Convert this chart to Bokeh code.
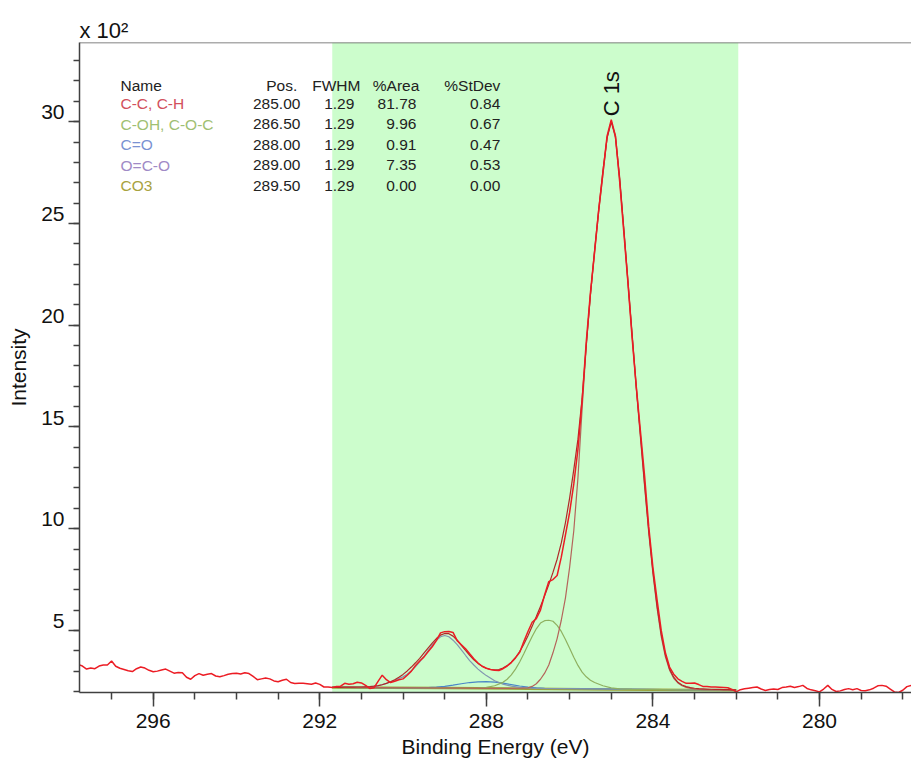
from math import pi
from bokeh.plotting import figure
from bokeh.models import Range1d, SingleIntervalTicker, BoxAnnotation, Label, Span, ColumnDataSource
from bokeh.core.properties import value
from bokeh.embed import file_html
from bokeh.resources import INLINE

FONT = "Liberation Sans"

# ---------------- data (intensity in units of 10^2 counts) ----------------
raw_start = 297.8
raw_step = 0.1
raw_intensity = [
    3.33, 3.25, 3.10, 3.15, 3.12, 3.25, 3.30, 3.30, 3.50, 3.24,
    3.14, 3.08, 3.02, 2.98, 3.12, 3.20, 3.15, 3.04, 2.97, 3.00,
    3.06, 3.10, 3.00, 2.90, 2.93, 2.92, 2.70, 2.60, 2.78, 2.88,
    2.80, 2.85, 2.88, 2.76, 2.72, 2.78, 2.85, 2.88, 2.90, 2.86,
    2.92, 2.88, 2.74, 2.58, 2.62, 2.66, 2.62, 2.52, 2.48, 2.55,
    2.60, 2.44, 2.39, 2.41, 2.40, 2.38, 2.36, 2.42, 2.35, 2.22,
    2.22, 2.19, 2.24, 2.26, 2.40, 2.36, 2.38, 2.45, 2.42, 2.30,
    2.15, 2.18, 2.50, 2.80, 2.58, 2.44, 2.50, 2.58, 2.62, 2.80,
    3.00, 3.28, 3.50, 3.69, 3.95, 4.20, 4.50, 4.88, 4.94, 4.95,
    4.90, 4.50, 4.30, 4.10, 3.85, 3.61, 3.40, 3.24, 3.14, 3.08,
    3.04, 3.03, 3.12, 3.25, 3.42, 3.65, 3.92, 4.45, 4.95, 5.40,
    5.58, 6.00, 6.75, 7.40, 7.50, 7.70, 8.60, 9.70, 10.80, 12.20,
    13.90, 16.30, 19.20, 21.60, 23.60, 25.70, 27.50, 29.30, 30.10, 29.30,
    27.10, 24.60, 22.10, 19.40, 17.00, 14.80, 12.60, 10.10, 8.10, 6.50,
    5.00, 3.90, 3.20, 2.85, 2.62, 2.50, 2.40, 2.40, 2.42, 2.34,
    2.25, 2.24, 2.22, 2.22, 2.21, 2.20, 2.18, 2.10, 1.98, 2.09,
    2.13, 2.16, 2.19, 2.22, 2.12, 2.05, 2.10, 2.12, 2.10, 2.19,
    2.22, 2.26, 2.20, 2.24, 2.30, 2.15, 2.08, 2.04, 1.98, 2.12,
    2.30, 2.10, 2.00, 2.03, 2.10, 2.14, 2.09, 2.14, 2.05, 2.04,
    2.08, 2.16, 2.28, 2.30, 2.26, 2.12, 1.98, 1.95, 2.06, 2.24,
    2.30,
]
raw_energy = [round(raw_start - raw_step * i, 1) for i in range(len(raw_intensity))]

env_start = 291.7
env_intensity = [
    2.20, 2.20, 2.20, 2.21, 2.21, 2.21, 2.22, 2.22, 2.23, 2.24,
    2.26, 2.29, 2.33, 2.40, 2.48, 2.58, 2.70, 2.84, 3.01, 3.20,
    3.41, 3.63, 3.88, 4.13, 4.38, 4.60, 4.77, 4.85, 4.84, 4.72,
    4.52, 4.27, 4.02, 3.78, 3.56, 3.38, 3.24, 3.14, 3.08, 3.06,
    3.08, 3.15, 3.27, 3.44, 3.67, 3.96, 4.32, 4.74, 5.20, 5.68,
    6.18, 6.70, 7.25, 7.85, 8.50, 9.30, 10.30, 11.50, 12.90, 14.40,
    16.40, 19.00, 21.50, 23.70, 25.70, 27.60, 29.20, 30.00, 29.30, 27.30,
    24.80, 22.20, 19.60, 17.00, 14.60, 12.20, 9.90, 7.90, 6.20, 4.80,
    3.80, 3.10, 2.70, 2.45, 2.32, 2.24, 2.19, 2.16, 2.14, 2.13,
    2.12, 2.11, 2.10, 2.10, 2.09, 2.09, 2.08, 2.08,
]
env_energy = [round(env_start - raw_step * i, 1) for i in range(len(env_intensity))]

cc_energy = [291.7, 287.6, 287.2, 287.0, 286.9, 286.8, 286.7, 286.6, 286.5, 286.4,
             286.3, 286.2, 286.1, 286.0, 285.9, 285.8, 285.7, 285.6, 285.5, 285.4,
             285.3, 285.2, 285.1, 285.0, 284.9, 284.8, 284.7, 284.6, 284.5, 284.4,
             284.3, 284.2, 284.1, 284.0, 283.9, 283.8, 283.7, 283.6, 283.5, 283.4,
             283.3, 283.2, 283.0, 282.8, 282.0]
cc_intensity = [2.20, 2.15, 2.16, 2.18, 2.25, 2.38, 2.60, 2.90, 3.30, 3.90,
                4.60, 5.50, 6.60, 8.10, 9.90, 12.50, 15.90, 19.00, 21.50, 23.60,
                25.60, 27.40, 29.20, 30.00, 29.20, 27.20, 24.70, 22.10, 19.50, 16.90,
                14.50, 12.10, 9.80, 7.80, 6.10, 4.70, 3.70, 3.05, 2.65, 2.42,
                2.28, 2.20, 2.12, 2.09, 2.06]

coh_energy = [291.7, 288.4, 288.2, 288.0, 287.8, 287.6, 287.5, 287.4, 287.3, 287.2,
              287.1, 287.0, 286.9, 286.8, 286.7, 286.6, 286.5, 286.4, 286.3, 286.2,
              286.1, 286.0, 285.9, 285.8, 285.7, 285.6, 285.5, 285.4, 285.2, 285.0,
              284.8, 284.5, 282.0]
coh_intensity = [2.20, 2.16, 2.17, 2.20, 2.28, 2.45, 2.60, 2.82, 3.10, 3.45,
                 3.85, 4.28, 4.70, 5.08, 5.36, 5.48, 5.50, 5.45, 5.25, 4.95,
                 4.55, 4.12, 3.68, 3.28, 2.95, 2.72, 2.55, 2.44, 2.28, 2.18,
                 2.13, 2.10, 2.06]

co_energy = [291.7, 289.6, 289.4, 289.2, 289.0, 288.8, 288.6, 288.4, 288.2, 288.0,
             287.8, 287.6, 287.4, 287.2, 287.0, 286.8, 286.6, 282.0]
co_intensity = [2.20, 2.18, 2.19, 2.21, 2.25, 2.31, 2.38, 2.44, 2.47, 2.48,
                2.46, 2.41, 2.34, 2.27, 2.21, 2.18, 2.16, 2.06]

oco_energy = [291.7, 291.0, 290.8, 290.6, 290.4, 290.2, 290.0, 289.9, 289.8, 289.7,
              289.6, 289.5, 289.4, 289.3, 289.2, 289.1, 289.0, 288.9, 288.8, 288.7,
              288.6, 288.5, 288.4, 288.3, 288.2, 288.1, 288.0, 287.8, 287.6, 287.4,
              287.2, 287.0, 286.8, 282.0]
oco_intensity = [2.20, 2.21, 2.23, 2.28, 2.40, 2.55, 2.72, 2.85, 3.02, 3.22,
                 3.45, 3.72, 4.00, 4.28, 4.52, 4.69, 4.75, 4.69, 4.52, 4.30,
                 4.05, 3.78, 3.52, 3.30, 3.10, 2.93, 2.78, 2.53, 2.36, 2.26,
                 2.20, 2.17, 2.15, 2.06]

bg_energy = [291.7, 289.0, 287.0, 285.0, 283.0, 282.0]
bg_intensity = [2.20, 2.17, 2.14, 2.10, 2.07, 2.06]

region_left = 291.7
region_right = 281.95

# fit table
tbl_headers = ["Name", "Pos.", "FWHM", "%Area", "%StDev"]
tbl_names = ["C-C, C-H", "C-OH, C-O-C", "C=O", "O=C-O", "CO3"]
tbl_pos = ["285.00", "286.50", "288.00", "289.00", "289.50"]
tbl_fwhm = ["1.29", "1.29", "1.29", "1.29", "1.29"]
tbl_area = ["81.78", "9.96", "0.91", "7.35", "0.00"]
tbl_stdev = ["0.84", "0.67", "0.47", "0.53", "0.00"]
tbl_name_colors = ["#d2505c", "#9fc072", "#7a92d2", "#a08ac6", "#a8a23e"]

x_ticks_major = 4
y_ticks_major = 5
y_tick_values = [5, 10, 15, 20, 25, 30]
scale_text = "x 10\u00b2"

# ---------------- figure ----------------
p = figure(width=911, height=764,
           x_range=Range1d(297.77, 277.79), y_range=Range1d(1.95, 33.89),
           output_backend="svg", toolbar_location=None,
           min_border_left=79, min_border_right=0, min_border_top=42, min_border_bottom=72)
p.background_fill_color = "white"
p.border_fill_color = "white"
p.outline_line_color = None
p.grid.visible = False

p.title.text = scale_text
p.title.align = "left"
p.title.text_font = FONT
p.title.text_font_size = "22px"
p.title.text_font_style = "normal"
p.title.text_color = "#111111"
p.title.standoff = 0
p.title.offset = 0

p.add_layout(BoxAnnotation(left=region_right, right=region_left,
                           fill_color="#ccfdcc", fill_alpha=1.0, line_color=None,
                           level="underlay"))
p.add_layout(Span(location=33.89, dimension="width", line_color="#5a5a5a", line_width=1.5))

# background & components
p.line(bg_energy, bg_intensity, line_color="#9da23a", line_width=2.5)
p.line(co_energy, co_intensity, line_color="#4a86c8", line_width=1.2)
p.line(oco_energy, oco_intensity, line_color="#8296b0", line_width=1.2)
p.line(coh_energy, coh_intensity, line_color="#8fb060", line_width=1.2)
p.line(cc_energy, cc_intensity, line_color="#b4645a", line_width=1.2)
p.line(env_energy, env_intensity, line_color="#b02828", line_width=1.2)
p.line(raw_energy, raw_intensity, line_color="#ec1c24", line_width=1.5)

# axes
for ax in (p.xaxis[0], p.yaxis[0]):
    ax.axis_line_color = "#404040"
    ax.axis_line_width = 1.5
    ax.major_tick_line_color = "#404040"
    ax.minor_tick_line_color = "#404040"
    ax.major_tick_line_width = 1.5
    ax.minor_tick_line_width = 1.5
    ax.major_tick_in = 0
    ax.minor_tick_in = 0
    ax.major_label_text_font = FONT
    ax.major_label_text_font_size = "21px"
    ax.major_label_text_color = "#111111"
    ax.axis_label_text_font = FONT
    ax.axis_label_text_font_size = "21px"
    ax.axis_label_text_font_style = "normal"
    ax.axis_label_text_color = "#111111"

p.xaxis.ticker = SingleIntervalTicker(interval=x_ticks_major, num_minor_ticks=4)
p.xaxis.major_tick_out = 14
p.xaxis.minor_tick_out = 7
p.xaxis.major_label_standoff = 7
p.xaxis.axis_label = "Binding Energy (eV)"
p.xaxis.axis_label_standoff = 4

p.yaxis.ticker = SingleIntervalTicker(interval=y_ticks_major, num_minor_ticks=5)
p.yaxis.major_tick_out = 11
p.yaxis.minor_tick_out = 6
p.yaxis.major_label_standoff = 4
# labels sit just above their tick, as in the original
p.yaxis.major_label_overrides = {v: f"{v}\n" for v in y_tick_values}
p.yaxis.major_label_text_line_height = 0.85
p.yaxis.axis_label = "Intensity"
p.yaxis.axis_label_standoff = 8

# peak label
p.add_layout(Label(x=285.0, y=30.26, text="C 1s", angle=pi / 2, text_font=FONT,
                   text_font_size="22px", text_color="#111111",
                   text_align="left", text_baseline="middle"))

# table
hdr_y = 31.78
row_y0 = 30.88
row_step = 1.01
rows_y = [row_y0 - i * row_step for i in range(len(tbl_names))]
col_name_x = 296.785
col_right_x = [292.465, 291.17, 289.68, 287.665]
hdr_right_x = [292.54, 291.025, 289.61, 287.665]

common = dict(text_font=value(FONT), text_font_size=value("15.5px"), text_baseline="middle")
p.text(x=[col_name_x], y=[hdr_y], text=[tbl_headers[0]], text_color="#222222",
       text_align="left", **common)
p.text(x=hdr_right_x, y=[hdr_y] * 4, text=tbl_headers[1:], text_color="#222222",
       text_align="right", **common)
p.text(source=ColumnDataSource(dict(x=[col_name_x] * 5, y=rows_y, t=tbl_names, c=tbl_name_colors)),
       x="x", y="y", text="t", text_color="c", text_align="left", **common)
for cx, col in zip(col_right_x, [tbl_pos, tbl_fwhm, tbl_area, tbl_stdev]):
    p.text(x=[cx] * 5, y=rows_y, text=col, text_color="#222222", text_align="right", **common)

open("out.html", "w").write(file_html(p, INLINE))
